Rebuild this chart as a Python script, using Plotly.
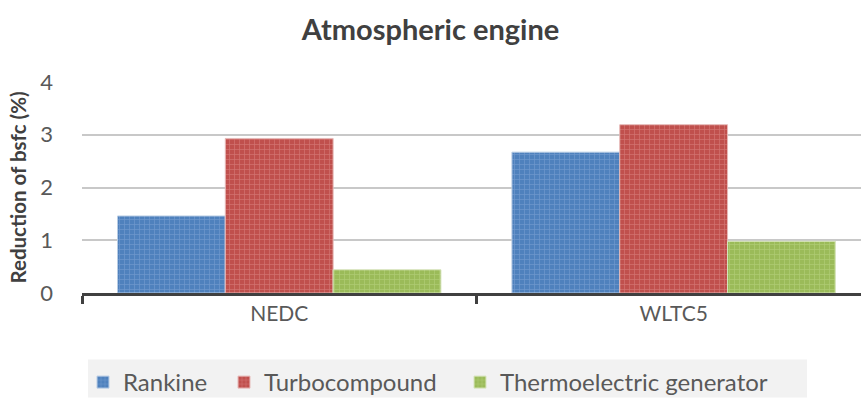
import plotly.graph_objects as go

categories = ["NEDC", "WLTC5"]
series_names = ["Rankine", "Turbocompound", "Thermoelectric generator"]
rankine = [1.46, 2.67]
turbocompound = [2.93, 3.19]
thermoelectric = [0.44, 0.98]
y_ticks = [0, 1, 2, 3, 4]

base_colors = ["#4f81bd", "#c0504d", "#9bbb59"]
fg_colors = ["#8fb0dc", "#e69a98", "#c4dc92"]
line_colors = ["#b8cce4", "#e6b9b8", "#d7e4bd"]
legend_ids = ["legend", "legend2", "legend3"]
legend_text_px = [125, 266, 502]

FONT = "Lato"
W, H = 861, 405
L, R, T, B = 82, 0, 82, 107

plot_w = W - L - R
plot_h = H - T - B

def px_to_paper_x(px):
    return (px - L) / plot_w

def px_to_paper_y(py):
    return (H - B - py) / plot_h

fig = go.Figure()
for name, vals, bc, fc, lc, lg in zip(series_names, [rankine, turbocompound, thermoelectric],
                                      base_colors, fg_colors, line_colors, legend_ids):
    fig.add_trace(go.Bar(
        x=categories, y=vals, name=name, legend=lg,
        marker=dict(color=bc, line=dict(color=lc, width=1),
                    pattern=dict(shape="+", fillmode="overlay", fgcolor=fc,
                                 size=5, solidity=0.25)),
    ))

fig.add_shape(type="rect", xref="paper", yref="paper",
              x0=px_to_paper_x(88), x1=px_to_paper_x(807),
              y0=px_to_paper_y(405), y1=px_to_paper_y(366),
              fillcolor="#f2f2f2", line=dict(width=0), layer="below")

legend_layout = {}
for lg, tx in zip(legend_ids, legend_text_px):
    legend_layout[lg] = dict(orientation="h", x=px_to_paper_x(tx - 42), xanchor="left",
                             y=px_to_paper_y(367), yanchor="top",
                             bgcolor="rgba(0,0,0,0)",
                             font=dict(size=24, color="#595959"))

fig.update_layout(
    width=W, height=H,
    margin=dict(l=L, r=R, t=T, b=B),
    paper_bgcolor="white", plot_bgcolor="white",
    barmode="group", bargap=0.18, bargroupgap=0,
    font=dict(family=FONT, color="#595959", size=20),
    title=dict(text="<b>Atmospheric engine</b>", x=0.5, xref="container",
               y=1 - 30 / H, yanchor="middle", xanchor="center",
               font=dict(family=FONT, size=29, color="#404040")),
    showlegend=True,
    **legend_layout,
)
fig.update_xaxes(
    type="category", range=[-0.5, 1.475],
    showline=True, linecolor="#404040", linewidth=3,
    ticks="outside", tickson="boundaries", ticklen=8, tickwidth=3, tickcolor="#404040",
    tickfont=dict(size=21, color="#595959"), showgrid=False,
)
fig.update_yaxes(
    range=[0, 4], tickvals=y_ticks, showgrid=True, gridcolor="#c8c8c8", gridwidth=1.5,
    zeroline=False, showline=False, ticks="", ticklabelstandoff=28,
    tickfont=dict(size=22, color="#595959"),
    title=dict(text="<b>Reduction of bsfc (%)</b>", standoff=8,
               font=dict(size=20.5, color="#404040")),
)

fig.write_html("out.html")
